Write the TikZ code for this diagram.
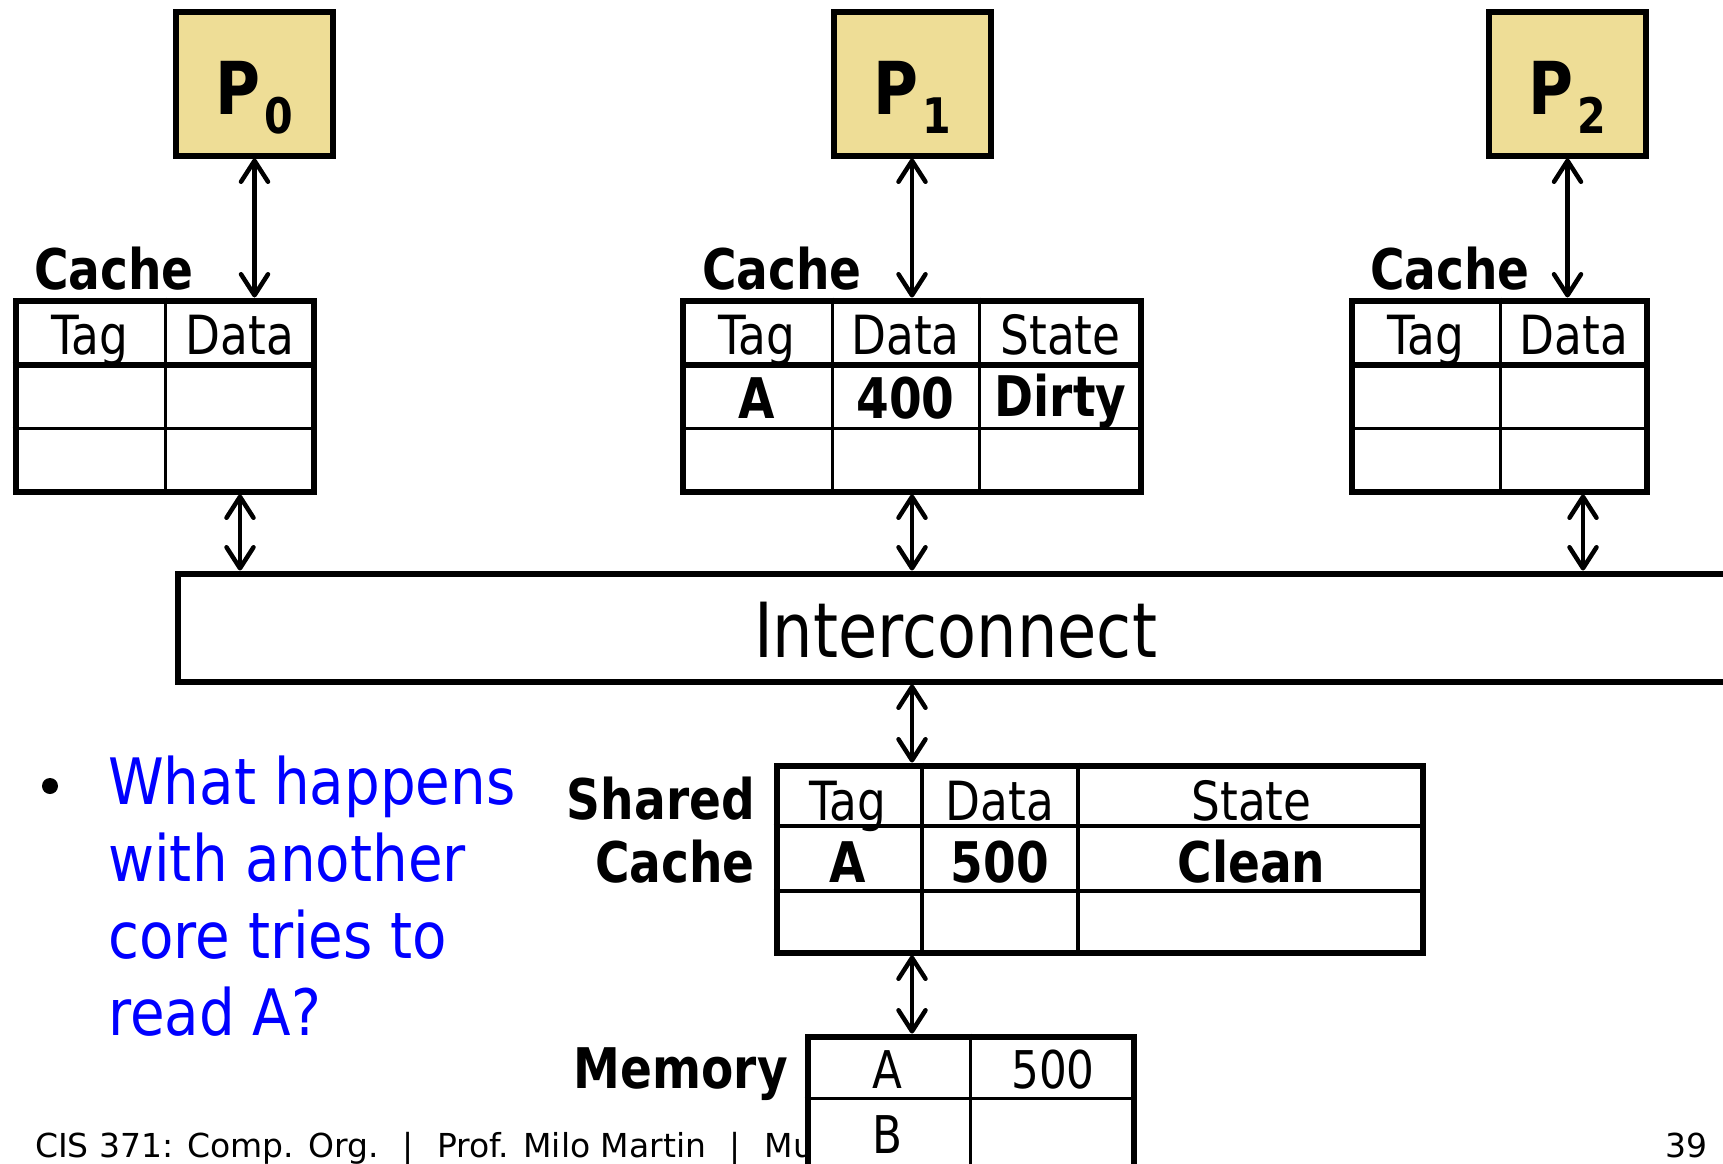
\documentclass[tikz,border=0pt]{standalone}
\usepackage{fontspec}
\setmainfont{DejaVu Sans}[FakeStretch=0.84]
\newfontfamily\footfont{DejaVu Sans}
\newfontfamily\askfont{DejaVu Sans}[FakeStretch=0.88]
\usetikzlibrary{arrows.meta}
\definecolor{procfill}{RGB}{238,221,150}
\definecolor{askblue}{RGB}{0,0,255}

\begin{document}
\begin{tikzpicture}[x=1pt,y=-1pt,>={Straight Barb[length=21pt,width=27pt,round]},
    link/.style={<->,line width=4.5pt},
    proc/.style={draw,line width=6pt,fill=procfill,minimum width=157pt,minimum height=144pt,
                 inner sep=0pt,text height=61pt,text depth=0pt,font=\fontsize{73pt}{80pt}\selectfont\bfseries},
    frame/.style={draw,line width=6pt,fill=white,inner sep=0pt},
    boldrule/.style={line width=6pt},
    midrule/.style={line width=4.5pt},
    thinrule/.style={line width=3pt},
    head/.style={anchor=base,inner sep=0pt,font=\fontsize{54pt}{60pt}\selectfont},
    val/.style={anchor=base,inner sep=0pt,font=\fontsize{56pt}{60pt}\selectfont\bfseries},
    title/.style={inner sep=0pt,font=\fontsize{56pt}{60pt}\selectfont\bfseries},
    memcell/.style={anchor=base,inner sep=0pt,font=\fontsize{52pt}{60pt}\selectfont}]

  \useasboundingbox (0,0) rectangle (1723,1163);

  % processors
  \node[proc] (p0) at (254.5,83.5) {P\kern4pt\raisebox{-19pt}{\fontsize{49pt}{49pt}\selectfont 0}};
  \node[proc] (p1) at (912,83.5) {P\kern4pt\raisebox{-19pt}{\fontsize{49pt}{49pt}\selectfont 1}};
  \node[proc] (p2) at (1567.5,83.5) {P\kern4pt\raisebox{-19pt}{\fontsize{49pt}{49pt}\selectfont 2}};

  % private caches
  \node[frame,minimum width=298pt,minimum height=191pt] (c0) at (164.5,396) {};
  \node[frame,minimum width=458pt,minimum height=191pt] (c1) at (912,396) {};
  \node[frame,minimum width=295pt,minimum height=191pt] (c2) at (1499.5,396) {};

  \draw[boldrule] (c0.west |- 0,365) -- (c0.east |- 0,365);
  \draw[thinrule] (c0.west |- 0,428) -- (c0.east |- 0,428);
  \draw[thinrule] (c0.north -| 165,0) -- (c0.south -| 165,0);
  \draw[boldrule] (c1.west |- 0,365) -- (c1.east |- 0,365);
  \draw[thinrule] (c1.west |- 0,428) -- (c1.east |- 0,428);
  \draw[thinrule] (c1.north -| 832,0) -- (c1.south -| 832,0);
  \draw[thinrule] (c1.north -| 979,0) -- (c1.south -| 979,0);
  \draw[boldrule] (c2.west |- 0,365) -- (c2.east |- 0,365);
  \draw[thinrule] (c2.west |- 0,428) -- (c2.east |- 0,428);
  \draw[thinrule] (c2.north -| 1500,0) -- (c2.south -| 1500,0);

  \node[title,anchor=base west] (c0name) at (34,289) {Cache};
  \node[title,anchor=base west] (c1name) at (702,289) {Cache};
  \node[title,anchor=base west] (c2name) at (1370,289) {Cache};

  \node[head] (c0tag) at (89.5,354) {Tag};
  \node[head] (c0data) at (240,354) {Data};
  \node[head] (c1tag) at (757,354) {Tag};
  \node[head] (c1data) at (905.5,354) {Data};
  \node[head] (c1state) at (1060.5,354) {State};
  \node[val] (c1a) at (757,418) {A};
  \node[val] (c1val) at (905.5,418) {400};
  \node[val] (c1dirty) at (1060.5,416) {Dirty};
  \node[head] (c2tag) at (1425.5,354) {Tag};
  \node[head] (c2data) at (1574,354) {Data};

  % interconnect
  \node[frame,minimum width=1556pt,minimum height=108pt,text height=60pt,text depth=0pt,
        font=\fontsize{76pt}{80pt}\selectfont] (bus) at (955.5,627.5) {Interconnect};

  \coordinate (b0) at (240,0);
  \coordinate (b2) at (1583,0);

  \draw[link] (p0) -- (c0.north -| p0);
  \draw[link] (p1) -- (c1.north -| p1);
  \draw[link] (p2) -- (c2.north -| p2);
  \draw[link] (c0.south -| b0) -- (bus.north -| b0);
  \draw[link] (c1) -- (bus.north -| c1);
  \draw[link] (c2.south -| b2) -- (bus.north -| b2);

  % shared cache
  \node[frame,minimum width=646pt,minimum height=187pt] (sc) at (1099.5,859) {};
  \draw[midrule] (sc.west |- 0,826) -- (sc.east |- 0,826);
  \draw[midrule] (sc.west |- 0,891) -- (sc.east |- 0,891);
  \draw[midrule] (sc.north -| 922,0) -- (sc.south -| 922,0);
  \draw[midrule] (sc.north -| 1078,0) -- (sc.south -| 1078,0);

  \node[head] (sctag) at (848,820) {Tag};
  \node[head] (scdata) at (1000,820) {Data};
  \node[head] (scstate) at (1251.5,820) {State};
  \node[val] (sca) at (848,882) {A};
  \node[val] (scval) at (1000,882) {500};
  \node[val] (scclean) at (1251.5,882) {Clean};
  \node[title,anchor=base east] (scname1) at (755,819) {Shared};
  \node[title,anchor=base east] (scname2) at (755,882) {Cache};

  \draw[link] (bus.south -| c1) -- (sc.north -| c1);

  % question
  \node[circle,fill,inner sep=0pt,minimum size=16pt] (dot) at (50,786) {};
  \node[anchor=north west,align=left,inner sep=0pt,text=askblue,
        font=\askfont\fontsize{64pt}{77pt}\selectfont] (ask) at (108,756) {What happens\\with another\\core tries to\\read A?};

  % footer
  \node[anchor=base west,inner sep=0pt,font=\footfont\fontsize{33pt}{36pt}\selectfont] (foot) at (35,1157)
       {CIS 371: Comp. Org.\hspace{0.72em}|\hspace{0.72em}Prof. Milo Martin\hspace{0.72em}|\hspace{0.72em}Mu};
  \node[anchor=base east,inner sep=0pt,font=\footfont\fontsize{33pt}{36pt}\selectfont] (page) at (1708,1157) {39};

  % memory
  \node[frame,minimum width=326pt,minimum height=165pt] (mem) at (970.5,1119) {};
  \draw[thinrule] (mem.west |- 0,1098) -- (mem.east |- 0,1098);
  \draw[thinrule] (mem.north -| 970,0) -- (mem.south -| 970,0);
  \node[memcell] (memA) at (887.5,1088) {A};
  \node[memcell] (memAval) at (1053,1088) {500};
  \node[memcell] (memB) at (887.5,1153) {B};
  \node[title,anchor=base east,font=\fontsize{56pt}{60pt}\selectfont\bfseries] (memname) at (788,1088) {Memory};

  \draw[link] (sc.south -| c1) -- (mem.north -| c1);
\end{tikzpicture}
\end{document}
